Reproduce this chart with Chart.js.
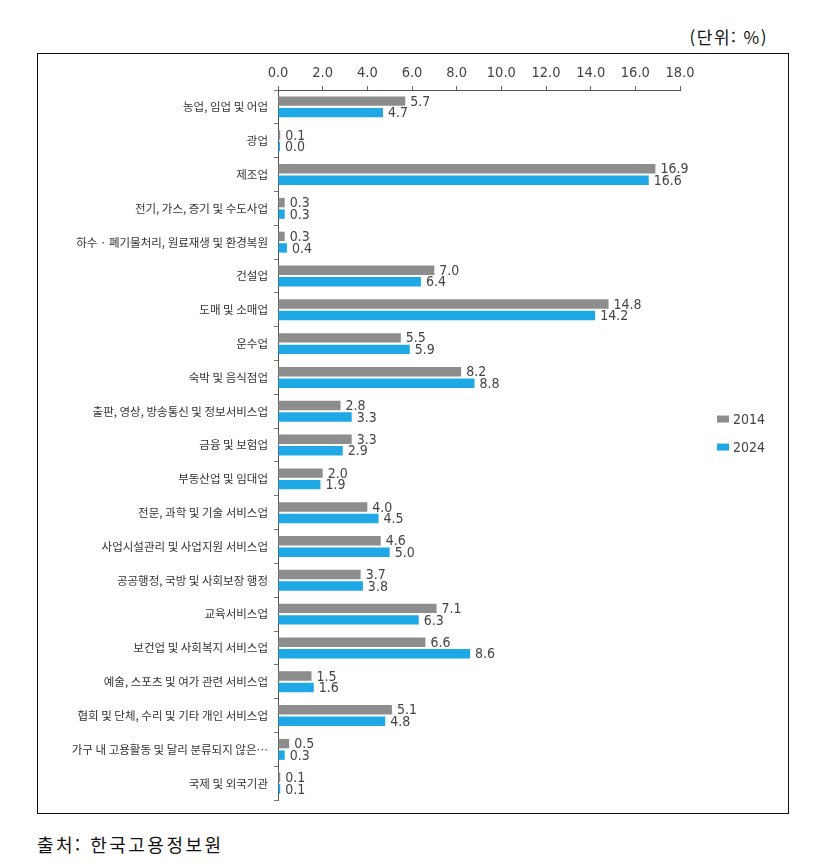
<!DOCTYPE html>
<html lang="ko">
<head>
<meta charset="utf-8">
<script src="https://cdn.jsdelivr.net/npm/chart.js@4"></script>
<style>
  html, body { margin: 0; padding: 0; background: #fff; }
  body { width: 840px; height: 865px; position: relative; overflow: hidden; }
  #unit { position: absolute; right: 72px; top: 24px; font-family: "Noto Sans CJK KR", sans-serif; font-size: 17px; letter-spacing: 1.5px; color: #111; }
  #box { position: absolute; left: 37px; top: 53px; width: 752px; height: 761px; border: 1px solid #111; box-sizing: border-box; }
  #wrap { position: absolute; left: 0; top: 0; width: 750px; height: 759px; }
  #source { position: absolute; left: 37px; top: 831px; font-family: "Noto Sans CJK KR", sans-serif; font-size: 18px; letter-spacing: 2.5px; color: #111; }
</style>
</head>
<body>
<div id="unit">(단위: %)</div>
<div id="box"><div id="wrap"><canvas id="c"></canvas></div></div>
<div id="source">출처: 한국고용정보원</div>
<script>
const categories = [
  "농업, 임업 및 어업",
  "광업",
  "제조업",
  "전기, 가스, 증기 및 수도사업",
  "하수 · 폐기물처리, 원료재생 및 환경복원",
  "건설업",
  "도매 및 소매업",
  "운수업",
  "숙박 및 음식점업",
  "출판, 영상, 방송통신 및 정보서비스업",
  "금융 및 보험업",
  "부동산업 및 임대업",
  "전문, 과학 및 기술 서비스업",
  "사업시설관리 및 사업지원 서비스업",
  "공공행정, 국방 및 사회보장 행정",
  "교육서비스업",
  "보건업 및 사회복지 서비스업",
  "예술, 스포츠 및 여가 관련 서비스업",
  "협회 및 단체, 수리 및 기타 개인 서비스업",
  "가구 내 고용활동 및 달리 분류되지 않은…",
  "국제 및 외국기관"
];
const seriesNames = ["2014", "2024"];
const values2014 = [5.7, 0.1, 16.9, 0.3, 0.3, 7.0, 14.8, 5.5, 8.2, 2.8, 3.3, 2.0, 4.0, 4.6, 3.7, 7.1, 6.6, 1.5, 5.1, 0.5, 0.1];
const values2024 = [4.7, 0.0, 16.6, 0.3, 0.4, 6.4, 14.2, 5.9, 8.8, 3.3, 2.9, 1.9, 4.5, 5.0, 3.8, 6.3, 8.6, 1.6, 4.8, 0.3, 0.1];
const axisMin = 0, axisMax = 18, axisStep = 2;

const NUM_FONT = '"Liberation Sans Narrow", "DejaVu Sans Condensed", sans-serif';
const GRAY = '#8d8d8d';
const BLUE = '#1fa8e6';

const valueLabels = {
  id: 'valueLabels',
  afterDatasetsDraw(chart) {
    const ctx = chart.ctx;
    ctx.save();
    ctx.font = '14px ' + NUM_FONT;
    ctx.fillStyle = '#444';
    ctx.textAlign = 'left';
    ctx.textBaseline = 'middle';
    chart.data.datasets.forEach((ds, i) => {
      const meta = chart.getDatasetMeta(i);
      meta.data.forEach((bar, j) => {
        ctx.fillText(ds.data[j].toFixed(1), bar.x + 5, bar.y + 1);
      });
    });
    ctx.restore();
  }
};

const sideLegend = {
  id: 'sideLegend',
  afterDraw(chart) {
    const ctx = chart.ctx;
    const a = chart.chartArea;
    const mid = (a.top + a.bottom) / 2;
    ctx.save();
    ctx.font = '14px ' + NUM_FONT;
    ctx.textBaseline = 'middle';
    ctx.textAlign = 'left';
    chart.data.datasets.forEach((ds, i) => {
      const x = a.right + 37;
      const y = mid - 26 + i * 28;
      ctx.fillStyle = ds.backgroundColor;
      ctx.fillRect(x, y - 3.5, 12, 7);
      ctx.fillStyle = '#444';
      ctx.fillText(ds.label, x + 16, y + 1);
    });
    ctx.restore();
  }
};

new Chart(document.getElementById('c'), {
  type: 'bar',
  data: {
    labels: categories,
    datasets: [
      { label: seriesNames[0], data: values2014, backgroundColor: GRAY },
      { label: seriesNames[1], data: values2024, backgroundColor: BLUE }
    ]
  },
  options: {
    indexAxis: 'y',
    responsive: true,
    maintainAspectRatio: false,
    animation: false,
    devicePixelRatio: 1,
    datasets: { bar: { categoryPercentage: 0.68, barPercentage: 0.82, minBarLength: 2 } },
    layout: { padding: { left: 0, right: 108, top: 0, bottom: 6 } },
    plugins: { legend: { display: false }, tooltip: { enabled: false } },
    scales: {
      x: {
        position: 'top',
        min: axisMin, max: axisMax,
        afterFit(s) { s.height = 36; },
        ticks: { stepSize: axisStep, padding: 4, color: '#444', font: { family: NUM_FONT, size: 14.5 },
                 callback: v => Number(v).toFixed(1) },
        grid: { drawOnChartArea: false, drawTicks: true, tickLength: 4, color: '#666' },
        border: { display: true, color: '#555', width: 1 }
      },
      y: {
        afterFit(s) { s.width = 240; },
        ticks: { padding: 6, color: '#333', autoSkip: false, font: { family: '"Noto Sans CJK KR", sans-serif', size: 11.5 } },
        grid: { drawOnChartArea: false, drawTicks: true, tickLength: 4, color: '#777', offset: true },
        border: { display: true, color: '#555', width: 1 }
      }
    }
  },
  plugins: [valueLabels, sideLegend]
});
</script>
</body>
</html>
